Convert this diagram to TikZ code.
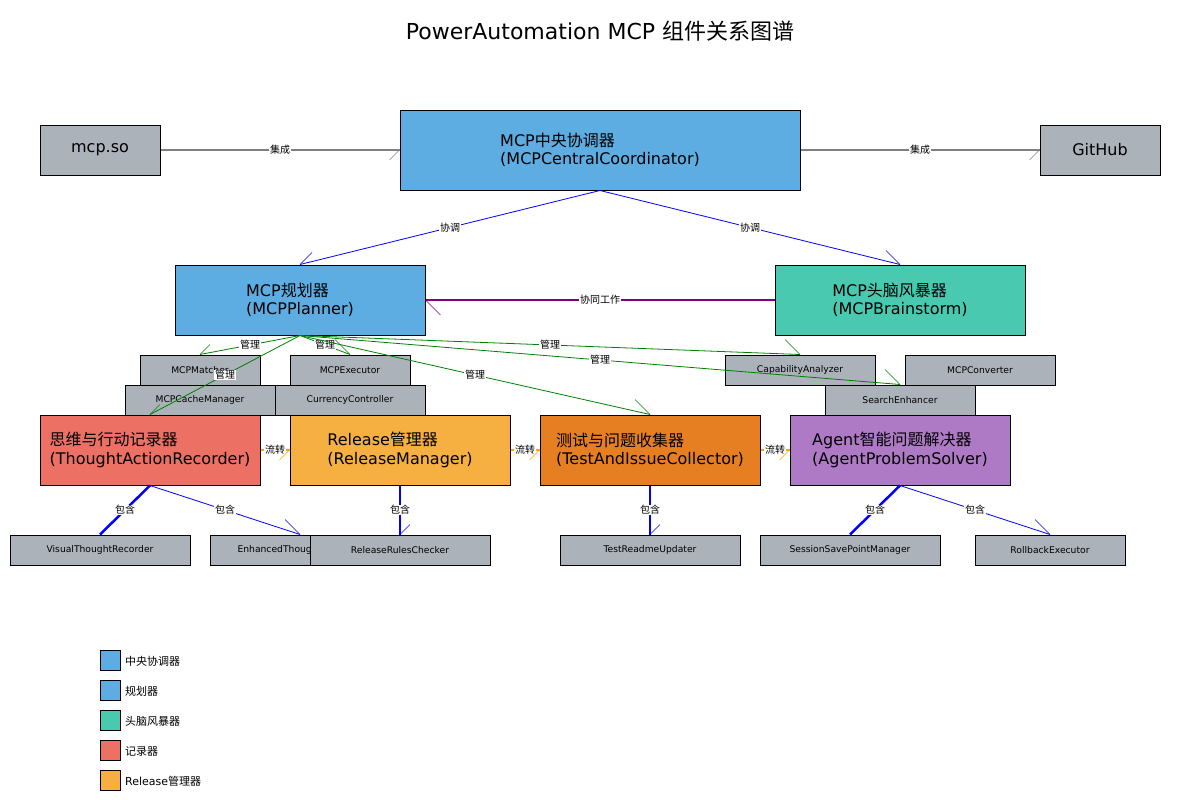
\documentclass[tikz,border=0pt]{standalone}
\usepackage{fontspec}
\setmainfont{DejaVu Sans}
\newfontfamily\cjk{Noto Sans CJK SC}
\newcommand{\zh}[1]{{\cjk #1}}
\definecolor{cblue}{HTML}{5DADE2}
\definecolor{cteal}{HTML}{48C9B0}
\definecolor{cred}{HTML}{EC7063}
\definecolor{corange}{HTML}{F5B041}
\definecolor{cdorange}{HTML}{E67E22}
\definecolor{cpurple}{HTML}{AF7AC5}
\definecolor{cgray}{HTML}{ABB2B9}
\definecolor{lgray}{HTML}{808080}
\definecolor{lgreen}{HTML}{008000}
\definecolor{lpurple}{HTML}{800080}
\definecolor{lorange}{HTML}{FFA500}
\definecolor{lblue}{HTML}{0000FF}
\begin{document}
\begin{tikzpicture}[x=1pt,y=-1pt,
  box/.style={draw=black, line width=1pt, inner sep=0pt, anchor=center},
  big/.style={box, font=\fontsize{16}{18.6}\selectfont, align=left},
  small/.style={box, fill=cgray, minimum height=30pt, font=\fontsize{9.2}{11}\selectfont},
  lbl/.style={fill=white, inner sep=0.8pt, font=\fontsize{10}{12}\selectfont},
  grayline/.style={draw=lgray, line width=1.5pt},
  blueline/.style={draw=lblue, line width=0.8pt},
  bluethick/.style={draw=lblue, line width=2.5pt},
  greenline/.style={draw=lgreen, line width=0.8pt},
  purpline/.style={draw=lpurple, line width=2pt},
  orline/.style={draw=lorange, line width=2pt},
  barb/.style={draw=#1, line width=0.5pt},
  legsq/.style={draw=black, line width=1pt, minimum width=20pt, minimum height=20pt, inner sep=0pt, anchor=center},
  leglbl/.style={anchor=west, inner sep=0pt, font=\fontsize{11}{13}\selectfont}
]
\useasboundingbox (0,0) rectangle (1200,800);

\node[font=\fontsize{22}{26}\selectfont] (title) at (600,31) {PowerAutomation MCP \zh{组件关系图谱}};

% top row
\node[big, fill=cgray, minimum width=120pt, minimum height=50pt] (mcpso) at (100,150) {mcp.so};
\node[big, fill=cblue, minimum width=400pt, minimum height=80pt] (central) at (600,150) {MCP\zh{中央协调器}\\(MCPCentralCoordinator)};
\node[big, fill=cgray, minimum width=120pt, minimum height=50pt] (github) at (1100,150) {GitHub};

% second row
\node[big, fill=cblue, minimum width=250pt, minimum height=70pt] (planner) at (300,300) {MCP\zh{规划器}\\(MCPPlanner)};
\node[big, fill=cteal, minimum width=250pt, minimum height=70pt] (brain) at (900,300) {MCP\zh{头脑风暴器}\\(MCPBrainstorm)};

% small components
\node[small, minimum width=120pt] (matcher) at (200,370) {MCPMatcher};
\node[small, minimum width=120pt] (executor) at (350,370) {MCPExecutor};
\node[small, minimum width=150pt] (cache) at (200,400) {MCPCacheManager};
\node[small, minimum width=150pt] (currency) at (350,400) {CurrencyController};
\node[small, minimum width=150pt] (capab) at (800,370) {CapabilityAnalyzer};
\node[small, minimum width=150pt] (conv) at (980,370) {MCPConverter};
\node[small, minimum width=150pt] (search) at (900,400) {SearchEnhancer};

% third row
\node[big, fill=cred, minimum width=220pt, minimum height=70pt] (thought) at (150,450) {\zh{思维与行动记录器}\\(ThoughtActionRecorder)};
\node[big, fill=corange, minimum width=220pt, minimum height=70pt] (release) at (400,450) {Release\zh{管理器}\\(ReleaseManager)};
\node[big, fill=cdorange, minimum width=220pt, minimum height=70pt] (test) at (650,450) {\zh{测试与问题收集器}\\(TestAndIssueCollector)};
\node[big, fill=cpurple, minimum width=220pt, minimum height=70pt] (agent) at (900,450) {Agent\zh{智能问题解决器}\\(AgentProblemSolver)};

% bottom row
\node[small, minimum width=180pt] (visual) at (100,550) {VisualThoughtRecorder};
\node[small, minimum width=180pt] (enhanced) at (300,550) {EnhancedThoughtRecorder};
\node[small, minimum width=180pt] (rrc) at (400,550) {ReleaseRulesChecker};
\node[small, minimum width=180pt] (readme) at (650,550) {TestReadmeUpdater};
\node[small, minimum width=180pt] (session) at (850,550) {SessionSavePointManager};
\node[small, minimum width=150pt] (rollback) at (1050,550) {RollbackExecutor};

% legend
\node[legsq, fill=cblue] (lg1) at (110,660) {};
\node[leglbl] (lt1) at (125,661) {\zh{中央协调器}};
\node[legsq, fill=cblue] (lg2) at (110,690) {};
\node[leglbl] (lt2) at (125,691) {\zh{规划器}};
\node[legsq, fill=cteal] (lg3) at (110,720) {};
\node[leglbl] (lt3) at (125,721) {\zh{头脑风暴器}};
\node[legsq, fill=cred] (lg4) at (110,750) {};
\node[leglbl] (lt4) at (125,751) {\zh{记录器}};
\node[legsq, fill=corange] (lg5) at (110,780) {};
\node[leglbl] (lt5) at (125,781) {Release\zh{管理器}};

% connectors
\draw[grayline] (mcpso) -- (central) node[lbl, midway] {\zh{集成}};
\draw[grayline] (central) -- (github) node[lbl, midway] {\zh{集成}};
\draw[blueline] (central.south) -- (planner.north) node[lbl, midway] {\zh{协调}};
\draw[blueline] (central.south) -- (brain.north) node[lbl, midway] {\zh{协调}};
\draw[purpline] (brain) -- (planner) node[lbl, midway] {\zh{协同工作}};

\draw[greenline] (planner.south) -- (matcher.north) node[lbl, midway] {\zh{管理}};
\draw[greenline] (planner.south) -- (executor.north) node[lbl, midway] {\zh{管理}};
\draw[greenline] (planner.south) -- (capab.north) node[lbl, midway] {\zh{管理}};
\draw[greenline] (planner.south) -- (search.north) node[lbl, midway] {\zh{管理}};
\draw[greenline] (planner.south) -- (test.north) node[lbl, midway] {\zh{管理}};
\draw[greenline] (planner.south) -- (thought.north) node[lbl, midway] {\zh{管理}};

\draw[orline] (thought) -- (release) node[lbl, midway] {\zh{流转}};
\draw[orline] (release) -- (test) node[lbl, midway] {\zh{流转}};
\draw[orline] (test) -- (agent) node[lbl, midway] {\zh{流转}};

\draw[bluethick] (thought.south) -- (visual.north) node[lbl, midway] {\zh{包含}};
\draw[blueline] (thought.south) -- (enhanced.north) node[lbl, midway] {\zh{包含}};
\draw[bluethick] (release.south) -- (rrc.north) node[lbl, midway] {\zh{包含}};
\draw[bluethick] (test.south) -- (readme.north) node[lbl, midway] {\zh{包含}};
\draw[bluethick] (agent.south) -- (session.north) node[lbl, midway] {\zh{包含}};
\draw[blueline] (agent.south) -- (rollback.north) node[lbl, midway] {\zh{包含}};

% half arrow heads
\draw[barb=lgray] (central.west) -- ++(-10,10);
\draw[barb=lgray] (github.west) -- ++(-10,10);
\draw[barb=lblue] (planner.north) -- ++(12,-12);
\draw[barb=lblue] (brain.north) -- ++(-14,-14);
\draw[barb=lpurple] (planner.east) -- ++(15,15);
\draw[barb=lgreen] (matcher.north) -- ++(10,-10);
\draw[barb=lgreen] (executor.north) -- ++(-15,-15);
\draw[barb=lgreen] (capab.north) -- ++(-15,-15);
\draw[barb=lgreen] (search.north) -- ++(-15,-15);
\draw[barb=lgreen] (test.north) -- ++(-15,-15);
\draw[barb=lgreen] (thought.north) -- ++(10,-10);
\draw[barb=lorange] (release.west) -- ++(-10,10);
\draw[barb=lorange] (test.west) -- ++(-10,10);
\draw[barb=lorange] (agent.west) -- ++(-10,10);
\draw[barb=lblue] (enhanced.north) -- ++(-15,-15);
\draw[barb=lblue] (rrc.north) -- ++(10,-10);
\draw[barb=lblue] (readme.north) -- ++(10,-10);
\draw[barb=lblue] (rollback.north) -- ++(-15,-15);
\end{tikzpicture}
\end{document}
